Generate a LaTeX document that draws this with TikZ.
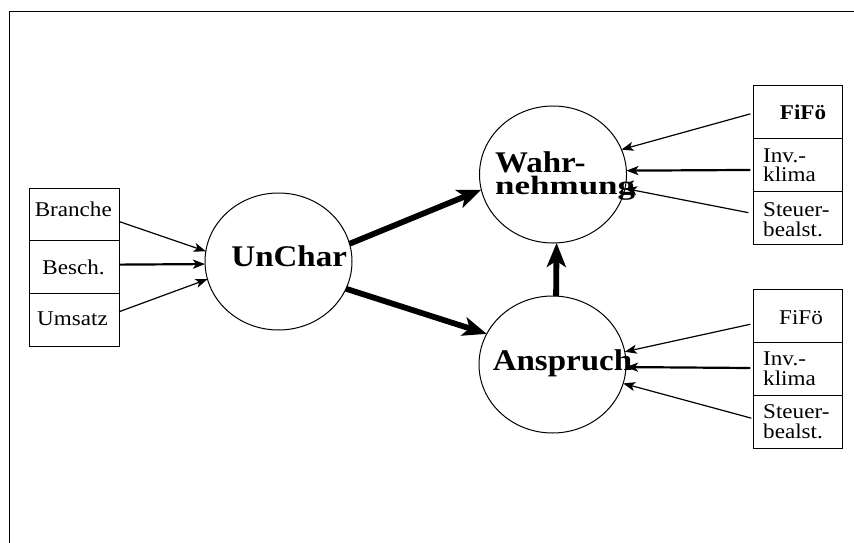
\documentclass[tikz,border=0pt]{standalone}
\usepackage{fontspec}
\setmainfont{Liberation Serif}
\newfontfamily\labfont{Liberation Serif}[FakeStretch=1.1]
\usetikzlibrary{arrows.meta,shapes.geometric}

\begin{document}
\begin{tikzpicture}[x=1pt,y=-1pt,
  lab/.style={font=\labfont\fontsize{21}{19.5}\selectfont, inner sep=0pt},
  labbold/.style={font=\labfont\bfseries\fontsize{21}{19.5}\selectfont, inner sep=0pt},
  big/.style={font=\labfont\bfseries\fontsize{30}{20}\selectfont, inner sep=0pt},
  factor/.style={ellipse, draw, line width=1pt, minimum width=147pt,
    minimum height=137pt, inner sep=0pt, outer sep=0pt},
  leftcell/.style={rectangle, draw, line width=1pt, inner sep=0pt, outer sep=0pt,
    minimum width=90pt, minimum height=52.7pt},
  rightcell/.style={rectangle, draw, line width=1pt, inner sep=0pt, outer sep=0pt,
    minimum width=88.7pt, minimum height=53pt},
  feed/.style={line width=1.2pt, -{Stealth[length=12pt,width=9pt,inset=3pt]}},
  feedmain/.style={feed, line width=2.2pt},
  link/.style={line width=5.8pt, -{Stealth[length=24pt,width=19pt,inset=6pt]}}
]
\useasboundingbox (0,0) rectangle (854,543);

% outer frame (only top and left edges are visible)
\draw[line width=1.2pt] (9.5,543) -- (9.5,11.5) -- (854,11.5);

% latent constructs
\node[factor] (u) at (278.5,261.5) {};
\node[factor] (w) at (553,174.5) {};
\node[factor] (a) at (552.5,364.5) {};

\node[big, anchor=base] (ut) at (289.2,266.7) {UnChar};
\node[big, anchor=base west] (wt1) at (495,172.5) {Wahr-};
\node[big, anchor=base west] (wt2) at (495,194) {\scalebox{1.06}[0.88]{nehmung}};
\node[big, anchor=base] (at) at (562.5,370) {Anspruch};

% indicator block of UnChar
\node[leftcell] (b1) at (74,214.35) {};
\node[leftcell] (b2) at (74,267) {};
\node[leftcell] (b3) at (74,319.7) {};
\node[lab, anchor=base] (b1t) at (73.3,216) {Branche};
\node[lab, anchor=base] (b2t) at (73.5,274) {Besch.};
\node[lab, anchor=base] (b3t) at (72.5,325) {Umsatz};

% indicator block of Wahrnehmung
\node[rightcell] (t1) at (797.65,111.5) {};
\node[rightcell] (t2) at (797.65,164.5) {};
\node[rightcell] (t3) at (797.65,217.5) {};
\node[labbold, anchor=base] (t1t) at (803,119.3) {FiFö};
\node[lab, anchor=base west] (t2a) at (763,162.7) {Inv.-};
\node[lab, anchor=base west] (t2b) at (763,181.7) {klima};
\node[lab, anchor=base west] (t3a) at (763,216.7) {Steuer-};
\node[lab, anchor=base west] (t3b) at (763,236.7) {bealst.};

% indicator block of Anspruch
\node[rightcell] (s1) at (797.65,315.8) {};
\node[rightcell] (s2) at (797.65,368.8) {};
\node[rightcell] (s3) at (797.65,421.8) {};
\node[lab, anchor=base] (s1t) at (801,324) {FiFö};
\node[lab, anchor=base west] (s2a) at (763,365) {Inv.-};
\node[lab, anchor=base west] (s2b) at (763,385) {klima};
\node[lab, anchor=base west] (s3a) at (763,418.3) {Steuer-};
\node[lab, anchor=base west] (s3b) at (763,438.3) {bealst.};

% structural paths
\draw[link] (u.14) -- (w.192);
\draw[link] (u.338) -- (a.155);
\draw[link] (a.87) -- (w.273);

% measurement paths
\draw[feed] (b1.-9) -- (u.172);
\draw[feedmain] (b2.3) -- (u.182);
\draw[feed] (b3.10) -- (u.194);

\draw[feed, shorten <=3pt] (t1.182) -- (w.20);
\draw[feedmain, shorten <=3pt] (t2.187) -- (w.3);
\draw[feed, shorten <=5pt] (t3.175) -- (w.-11);

\draw[feed, shorten <=3pt] (s1.190) -- (a.10);
\draw[feedmain, shorten <=3pt] (s2.179) -- (a.-2);
\draw[feed, shorten <=2pt] (s3.176) -- (a.-15);
\end{tikzpicture}
\end{document}
